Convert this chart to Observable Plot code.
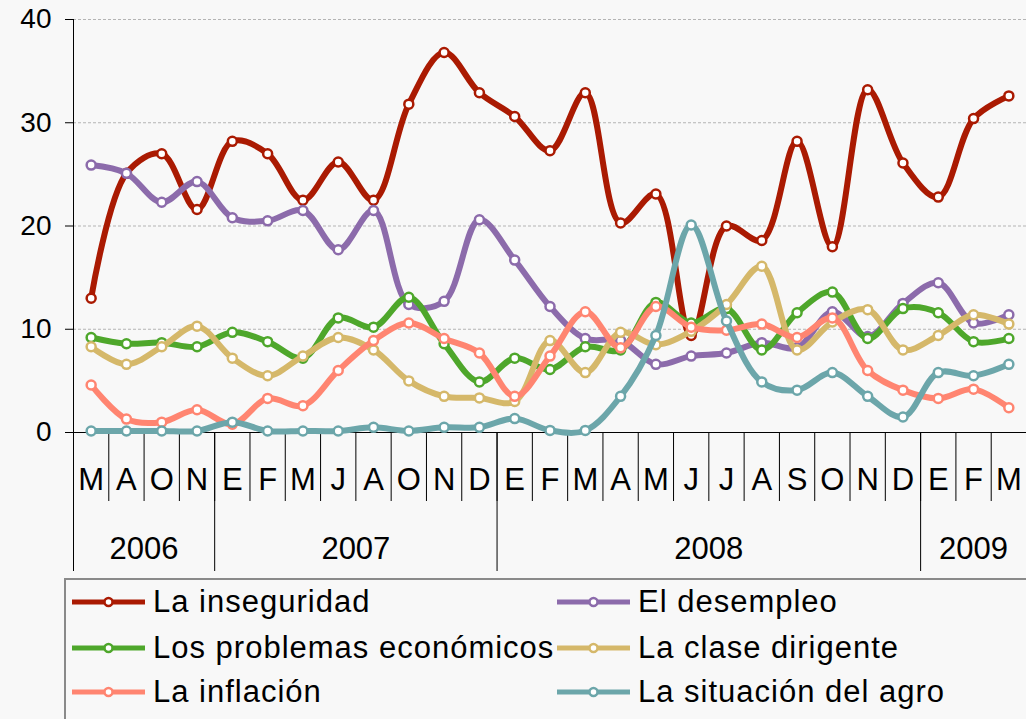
<!DOCTYPE html>
<html><head><meta charset="utf-8">
<script src="https://cdn.jsdelivr.net/npm/d3@7"></script>
<script src="https://cdn.jsdelivr.net/npm/@observablehq/plot@0.6"></script>
<style>
body{margin:0;background:#f8f8f8;font-family:"Liberation Sans",Arial,sans-serif;}
#wrap{width:1026px;height:719px;position:relative;overflow:hidden;background:#f8f8f8}
#chart svg{display:block}
#legend{position:absolute;left:64px;top:578px;width:980px;height:180px;border-top:2px solid #8a8a8a;border-left:2px solid #8a8a8a;}
.item{position:absolute;display:flex;align-items:center;height:40px;font-size:31px;letter-spacing:1px;color:#000;white-space:nowrap}
.item svg{margin-right:8px;display:block}
</style></head>
<body><div id="wrap"><div id="chart"></div><div id="legend"></div></div>
<script>
const months=["M","A","O","N","E","F","M","J","A","O","N","D","E","F","M","A","M","J","J","A","S","O","N","D","E","F","M"];
const yearLabels=["2006","2007","2008","2009"];
const yearCenters=[1.5,7.5,17.5,25];
const yearBounds=[-0.5,3.5,11.5,23.5];
const seriesNames=["La inseguridad","El desempleo","Los problemas económicos","La clase dirigente","La inflación","La situación del agro"];
const seriesColors=["#aa1a02","#8c6bab","#4ea72b","#d5b86a","#ff8571","#6ca6aa"];
const inseguridad=[13.0,25.1,27.0,21.6,28.2,27.0,22.5,26.2,22.5,31.8,36.8,32.9,30.6,27.3,32.9,20.3,23.1,9.4,20.0,18.6,28.2,18.0,33.2,26.1,22.8,30.4,32.6];
const desempleo=[25.9,25.1,22.3,24.3,20.8,20.5,21.5,17.7,21.5,12.4,12.7,20.6,16.7,12.2,9.1,8.9,6.6,7.4,7.7,8.7,8.2,11.7,9.3,12.5,14.5,10.6,11.4];
const economicos=[9.2,8.6,8.7,8.3,9.7,8.8,7.2,11.1,10.2,13.1,8.6,4.9,7.2,6.1,8.3,8.0,12.6,10.6,12.0,8.0,11.6,13.6,9.1,12.0,11.6,8.8,9.1];
const clase=[8.3,6.6,8.3,10.3,7.2,5.5,7.4,9.2,8.0,5.0,3.5,3.35,3.0,8.9,5.8,9.7,8.5,9.8,12.4,16.1,8.0,10.7,11.9,8.0,9.4,11.4,10.5];
const inflacion=[4.6,1.3,1.0,2.2,0.8,3.3,2.6,6.0,8.9,10.6,9.1,7.7,3.5,7.4,11.7,8.2,12.2,10.2,9.9,10.5,9.2,11.1,6.0,4.1,3.3,4.2,2.4];
const agro=[0.15,0.15,0.15,0.15,1.0,0.15,0.15,0.15,0.5,0.15,0.5,0.5,1.35,0.2,0.2,3.5,9.4,20.1,10.8,4.9,4.1,5.8,3.5,1.5,5.8,5.5,6.6];
const values=[inseguridad,desempleo,economicos,clase,inflacion,agro];

const rows=[];
values.forEach((arr,k)=>arr.forEach((v,i)=>rows.push({serie:seriesNames[k],i,v})));
const monthBounds=d3.range(1,months.length).map(i=>i-0.5);

const seriesMarks=seriesNames.flatMap((s,k)=>{
  const d=rows.filter(r=>r.serie===s);
  return [
    Plot.line(d,{x:"i",y:"v",stroke:seriesColors[k],strokeWidth:6,curve:"catmull-rom"}),
    Plot.dot(d,{x:"i",y:"v",r:4.5,fill:"white",stroke:seriesColors[k],strokeWidth:2.5})
  ];
});

const chart=Plot.plot({
  width:1026,height:579,marginLeft:73,marginRight:0,marginTop:19,marginBottom:147,
  style:{background:"#f8f8f8",fontFamily:"'Liberation Sans', Arial, sans-serif",color:"#000"},
  x:{type:"linear",domain:[-0.5,months.length-0.5],axis:null,label:null},
  y:{domain:[0,40],axis:null,label:null},
  marks:[
    Plot.gridY([10,20,30,40],{stroke:"#b4b4b4",strokeOpacity:1,strokeDasharray:"3,2"}),
    Plot.axisY({ticks:[0,10,20,30,40],tickSize:8,tickPadding:14,fontSize:28,stroke:"#000",label:null}),
    Plot.axisX({ticks:monthBounds,tickSize:69,tickFormat:()=>"",stroke:"#000",label:null}),
    Plot.axisX({ticks:yearBounds,tickSize:139,tickFormat:()=>"",stroke:"#000",label:null}),
    Plot.axisX({ticks:d3.range(months.length),tickSize:0,tickPadding:35,tickFormat:i=>months[i],fontSize:31,label:null}),
    Plot.axisX({ticks:yearCenters,tickSize:0,tickPadding:104,tickFormat:d=>yearLabels[yearCenters.indexOf(d)],fontSize:31,label:null}),
    Plot.ruleX([-0.5],{stroke:"#000",insetBottom:-139}),
    Plot.ruleY([0],{stroke:"#000"}),
    ...seriesMarks
  ]
});
document.getElementById("chart").appendChild(chart);

const legend=document.getElementById("legend");
const colX=[6,491], rowY=[2,48,92];
seriesNames.forEach((s,k)=>{
  const r=Math.floor(k/2), c=k%2;
  const it=document.createElement("div");
  it.className="item";
  it.style.left=colX[c]+"px"; it.style.top=rowY[r]+"px";
  it.innerHTML=`<svg width="73" height="14"><line x1="0" x2="73" y1="7" y2="7" stroke="${seriesColors[k]}" stroke-width="5" stroke-linecap="round"/><circle cx="36.5" cy="7" r="4" fill="white" stroke="${seriesColors[k]}" stroke-width="2.5"/></svg><span>${s}</span>`;
  legend.appendChild(it);
});
</script></body></html>
